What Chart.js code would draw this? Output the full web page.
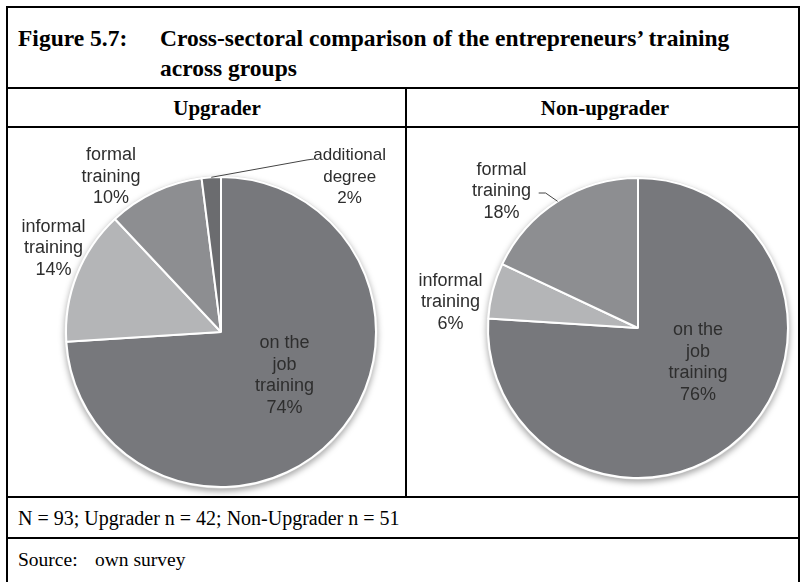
<!DOCTYPE html>
<html>
<head>
<meta charset="utf-8">
<script src="https://cdn.jsdelivr.net/npm/chart.js@4.4.1/dist/chart.umd.min.js"></script>
<style>
  body { margin: 0; background: #fff; width: 803px; height: 582px; overflow: hidden; position: relative;
         font-family: "Liberation Serif", "Times New Roman", serif; color: #000; }
  .ln { position: absolute; background: #000; }
  .t { position: absolute; white-space: nowrap; }
  .b { font-weight: bold; }
  canvas { position: absolute; }
</style>
</head>
<body>
<!-- table frame -->
<div class="ln" style="left:6px;top:6px;width:2px;height:576px"></div>
<div class="ln" style="left:798px;top:6px;width:2px;height:576px"></div>
<div class="ln" style="left:6px;top:6px;width:794px;height:2px"></div>
<div class="ln" style="left:6px;top:87px;width:794px;height:2px"></div>
<div class="ln" style="left:6px;top:126px;width:794px;height:2px"></div>
<div class="ln" style="left:6px;top:496px;width:794px;height:2px"></div>
<div class="ln" style="left:6px;top:537px;width:794px;height:2px"></div>
<div class="ln" style="left:405px;top:87px;width:2px;height:410px"></div>

<div class="t b" style="left:18px;top:23px;font-size:23.5px;line-height:30px">Figure 5.7:</div>
<div class="t b" style="left:160px;top:23px;font-size:23.5px;line-height:30px">Cross-sectoral comparison of the entrepreneurs’ training<br>across groups</div>
<div class="t b" style="left:18px;width:398px;text-align:center;top:94px;font-size:21px;line-height:28px">Upgrader</div>
<div class="t b" style="left:409px;width:392px;text-align:center;top:94px;font-size:21px;line-height:28px">Non-upgrader</div>
<div class="t" style="left:18px;top:504px;font-size:20px;line-height:28px">N = 93; Upgrader n = 42; Non-Upgrader n = 51</div>
<div class="t" style="left:18px;top:546px;font-size:19.5px;line-height:28px">Source:</div>
<div class="t" style="left:95px;top:546px;font-size:19.5px;line-height:28px">own survey</div>

<canvas id="upg" width="398" height="368" style="left:8px;top:128px"></canvas>
<canvas id="nonupg" width="392" height="368" style="left:407px;top:128px"></canvas>

<script>
// data
const upgLabels = [['on the', 'job', 'training'], ['informal', 'training'], ['formal', 'training'], ['additional', 'degree']];
const upgValues = [74, 14, 10, 2];
const nonLabels = [['on the', 'job', 'training'], ['informal', 'training'], ['formal', 'training']];
const nonValues = [76, 6, 18];

const sliceColors = ['#77787c', '#b4b5b7', '#8d8e91', '#6b6c6f'];

// labels sit at center + offset * radius, like the excel data labels
const pieLabels = {
  id: 'pieLabels',
  afterDatasetsDraw(chart, args, opts) {
    const ctx = chart.ctx;
    const meta = chart.getDatasetMeta(0);
    const values = chart.data.datasets[0].data;
    meta.data.forEach((arc, i) => {
      const p = opts.place[i];
      const r = arc.outerRadius;
      const lines = chart.data.labels[i].concat([values[i] + '%']);
      const cx = arc.x + p.dx * r, cy = arc.y + p.dy * r;
      ctx.save();
      ctx.font = p.font || opts.font;
      ctx.fillStyle = opts.color;
      ctx.textAlign = 'center';
      ctx.textBaseline = 'middle';
      lines.forEach((s, k) => ctx.fillText(s, cx, cy + (k - (lines.length - 1) / 2) * opts.lineHeight));
      if (p.leader) {
        const mid = (arc.startAngle + arc.endAngle) / 2;
        ctx.strokeStyle = '#444';
        ctx.lineWidth = 1;
        ctx.beginPath();
        ctx.moveTo(arc.x + Math.cos(mid) * r, arc.y + Math.sin(mid) * r);
        p.leader.forEach(([lx, ly]) => ctx.lineTo(arc.x + lx * r, arc.y + ly * r));
        ctx.stroke();
      }
      ctx.restore();
    });
  }
};

// soft grey rim + drop shadow under the pie
const pieShadow = {
  id: 'pieShadow',
  beforeDatasetsDraw(chart) {
    const arc = chart.getDatasetMeta(0).data[0];
    const ctx = chart.ctx;
    ctx.save();
    ctx.shadowColor = 'rgba(0,0,0,0.35)';
    ctx.shadowBlur = 6;
    ctx.shadowOffsetY = 3;
    ctx.fillStyle = '#e4e4e4';
    ctx.beginPath();
    ctx.arc(arc.x, arc.y, arc.outerRadius + 1.5, 0, Math.PI * 2);
    ctx.fill();
    ctx.restore();
  }
};

function makePie(id, labels, values, padding, place) {
  return new Chart(document.getElementById(id), {
    type: 'pie',
    data: {
      labels: labels,
      datasets: [{
        data: values,
        backgroundColor: sliceColors.slice(0, values.length),
        borderColor: '#fff',
        borderWidth: 2
      }]
    },
    options: {
      responsive: false,
      animation: false,
      layout: { padding: padding },
      plugins: {
        legend: { display: false },
        tooltip: { enabled: false },
        pieLabels: {
          font: '18px "Liberation Sans", Arial, sans-serif',
          color: '#2e2e2e',
          lineHeight: 21.5,
          place: place
        }
      }
    },
    plugins: [pieShadow, pieLabels]
  });
}

makePie('upg', upgLabels, upgValues,
  { left: 57, top: 48, right: 29, bottom: 8 },
  [
    { dx: 0.41, dy: 0.28 },
    { dx: -1.08, dy: -0.54 },
    { dx: -0.71, dy: -1.0 },
    { dx: 0.83, dy: -1.0, font: '17px "Liberation Sans Narrow", "Liberation Sans", Arial, sans-serif',
      leader: [[0.555, -1.11], [0.60, -1.116]] }
  ]);

makePie('nonupg', nonLabels, nonValues,
  { left: 80, top: 49, right: 10, bottom: 17 },
  [
    { dx: 0.40, dy: 0.23 },
    { dx: -1.25, dy: -0.17 },
    { dx: -0.91, dy: -0.91, leader: [[-0.616, -0.90], [-0.662, -0.90]] }
  ]);
</script>
</body>
</html>
